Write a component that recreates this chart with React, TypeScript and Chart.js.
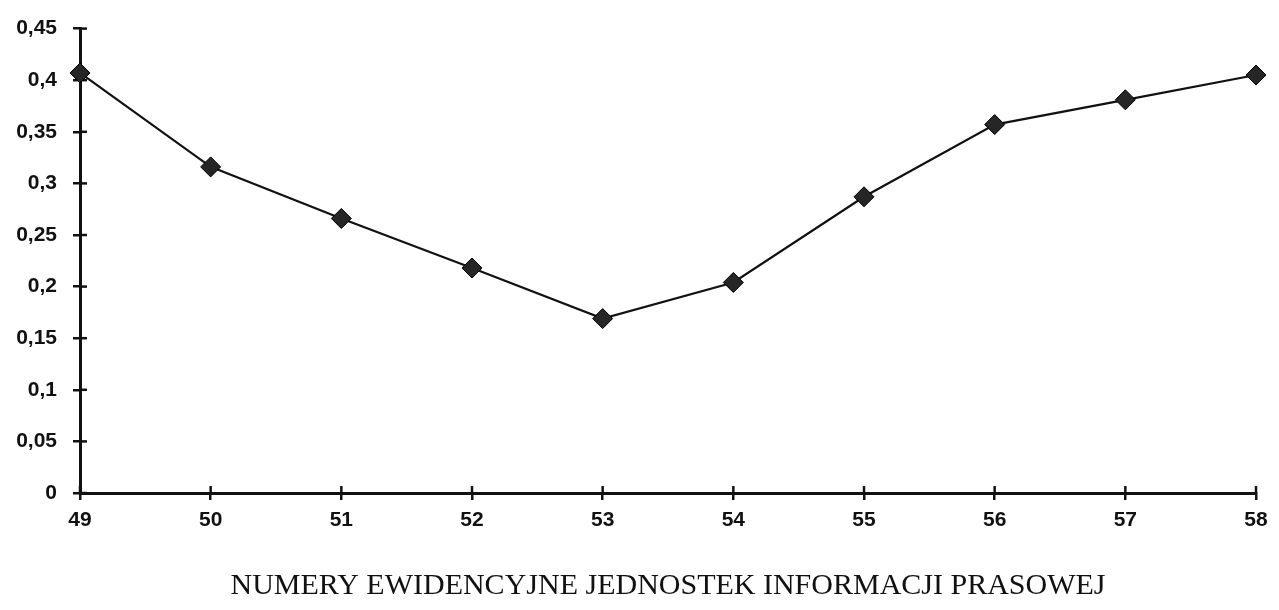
import React, { useEffect, useRef } from "react";
import { Chart, registerables } from "chart.js";

Chart.register(...registerables);

const categories: string[] = ["49", "50", "51", "52", "53", "54", "55", "56", "57", "58"];
const seriesValues: number[] = [0.407, 0.316, 0.266, 0.218, 0.169, 0.204, 0.287, 0.357, 0.381, 0.405];
const xAxisTitle = "NUMERY EWIDENCYJNE JEDNOSTEK INFORMACJI PRASOWEJ";
const yMin = 0;
const yMax = 0.45;
const yStep = 0.05;

const innerTicks = {
  id: "innerTicks",
  beforeDatasetsDraw(chart: any) {
    const { ctx, chartArea, scales } = chart;
    const len = 7;
    ctx.save();
    ctx.strokeStyle = "#111";
    ctx.lineWidth = 2.5;
    const ys = scales.y;
    ys.ticks.forEach((_t: any, i: number) => {
      const y = ys.getPixelForTick(i);
      ctx.beginPath();
      ctx.moveTo(chartArea.left, y);
      ctx.lineTo(chartArea.left + len, y);
      ctx.stroke();
    });
    const xs = scales.x;
    xs.ticks.forEach((_t: any, i: number) => {
      const x = xs.getPixelForTick(i);
      ctx.beginPath();
      ctx.moveTo(x, chartArea.bottom);
      ctx.lineTo(x, chartArea.bottom - len);
      ctx.stroke();
    });
    ctx.restore();
  },
};

export default function App() {
  const canvasRef = useRef<HTMLCanvasElement | null>(null);

  useEffect(() => {
    if (!canvasRef.current) return;
    const chart = new Chart(canvasRef.current, {
      type: "line",
      data: {
        labels: categories,
        datasets: [
          {
            data: seriesValues,
            borderColor: "#111",
            borderWidth: 2.2,
            pointStyle: "rectRot",
            pointRadius: 10,
            pointBackgroundColor: "#262626",
            pointBorderColor: "#000",
            pointBorderWidth: 1,
            tension: 0,
            clip: false as any,
          },
        ],
      },
      options: {
        animation: false,
        responsive: true,
        maintainAspectRatio: false,
        layout: { padding: { left: 0, right: 23, top: 27, bottom: 0 } },
        plugins: {
          legend: { display: false },
          tooltip: { enabled: false },
        },
        scales: {
          x: {
            type: "category",
            offset: false,
            grid: { drawOnChartArea: false, drawTicks: true, tickLength: 7, color: "#111", lineWidth: 2.5 },
            border: { display: true, color: "#111", width: 3 },
            ticks: {
              color: "#111",
              padding: 8,
              maxRotation: 0,
              autoSkip: false,
              font: { family: "'Liberation Sans', Arial, sans-serif", size: 21, weight: "bold" },
            },
            title: {
              display: true,
              text: xAxisTitle,
              color: "#111",
              font: { family: "'Liberation Serif', 'Times New Roman', serif", size: 30, weight: "normal" },
              padding: { top: 0, bottom: 6 },
            },
            afterFit(scale: any) {
              scale.height = 117;
            },
          },
          y: {
            min: yMin,
            max: yMax,
            grid: { drawOnChartArea: false, drawTicks: true, tickLength: 7, color: "#111", lineWidth: 2.5 },
            border: { display: true, color: "#111", width: 3 },
            ticks: {
              stepSize: yStep,
              color: "#111",
              padding: 16,
              font: { family: "'Liberation Sans', Arial, sans-serif", size: 21, weight: "bold" },
              callback: (v: any) => String(Number(Number(v).toFixed(2))).replace(".", ","),
            },
            afterFit(scale: any) {
              scale.width = 80;
            },
          },
        },
      },
      plugins: [innerTicks],
    });
    return () => chart.destroy();
  }, []);

  return (
    <div style={{ position: "fixed", left: 0, top: 0, width: 1279, height: 610, background: "#fff" }}>
      <canvas ref={canvasRef} />
    </div>
  );
}
